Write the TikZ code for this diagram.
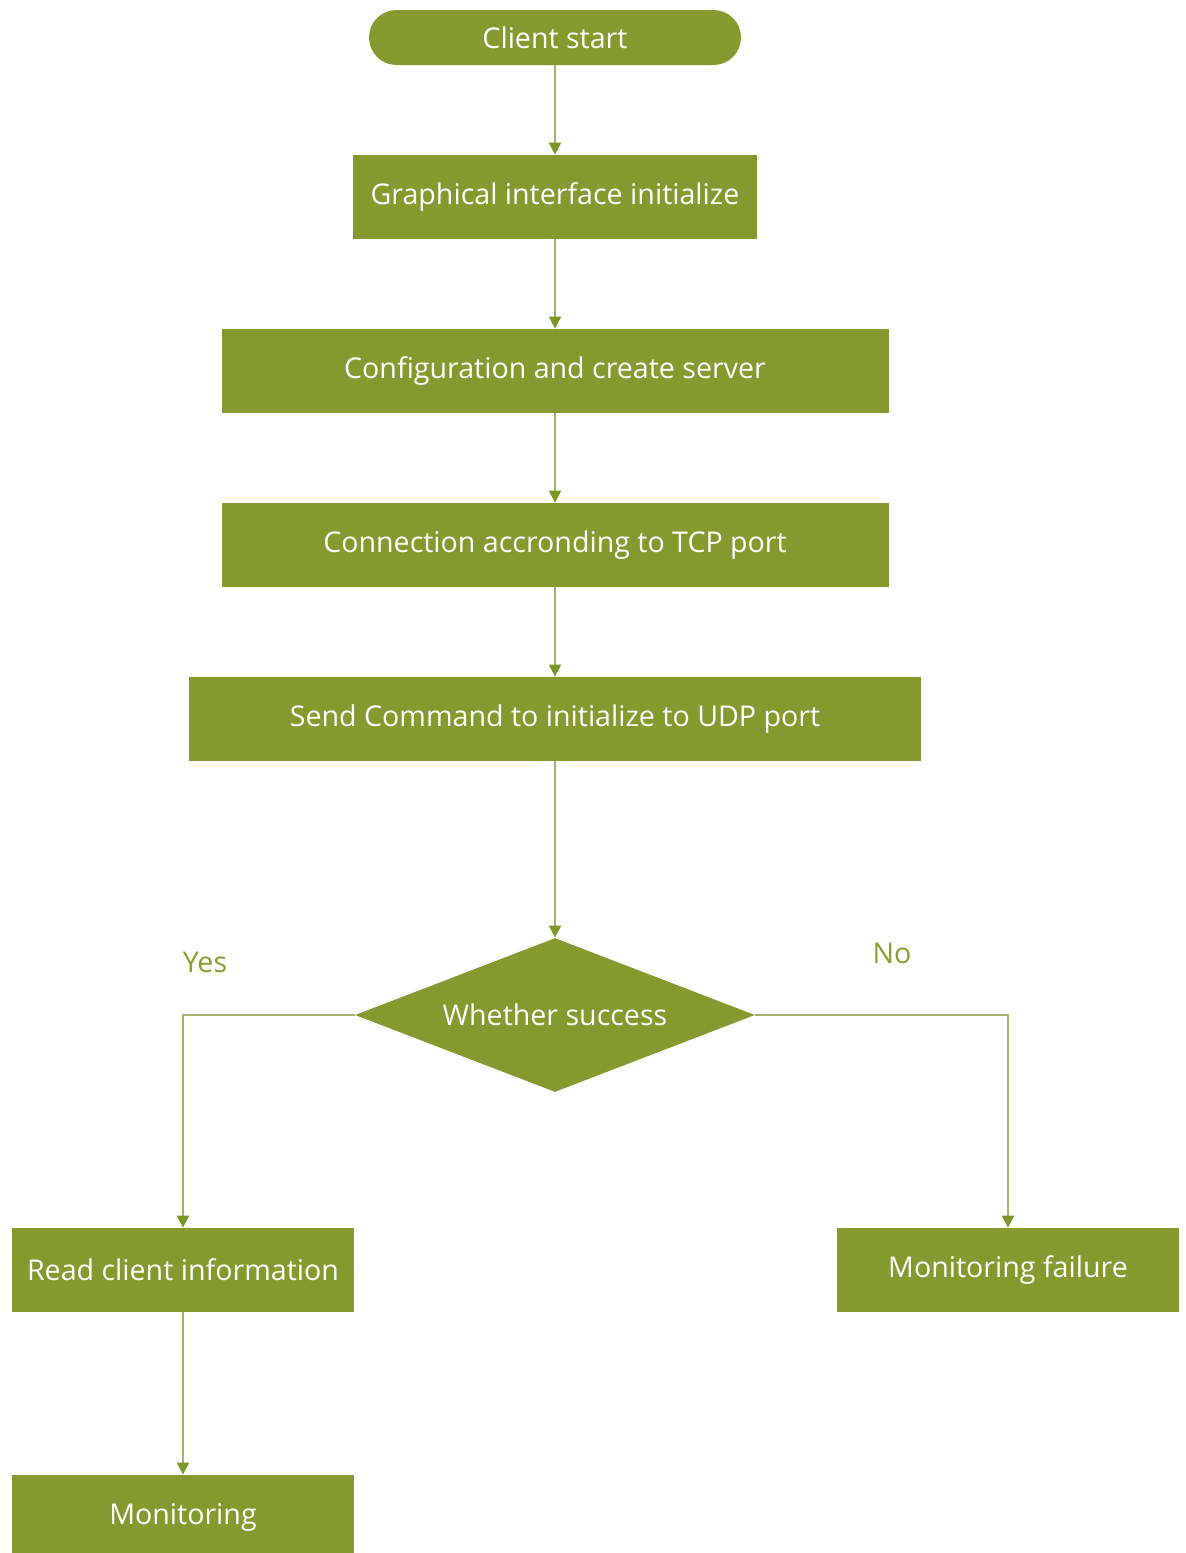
\documentclass[tikz,border=0pt]{standalone}
\usepackage{fontspec}
\setmainfont{Open Sans}
\usetikzlibrary{arrows.meta,shapes.geometric}
\definecolor{boxgreen}{RGB}{133,153,46}
\definecolor{linegreen}{RGB}{163,180,104}
\definecolor{tipgreen}{RGB}{125,148,38}
\definecolor{labelgreen}{RGB}{140,155,45}
\begin{document}
\begin{tikzpicture}[x=0.5pt,y=-0.5pt,
  txt/.style={font=\fontsize{14.3}{17}\selectfont},
  box/.style={txt,rectangle,fill=boxgreen,text=white,inner sep=0pt,minimum height=42pt},
  terminal/.style={box,rounded corners=13.75pt,minimum width=186pt,minimum height=27.5pt},
  decision/.style={txt,diamond,aspect=2.6,fill=boxgreen,text=white,inner sep=0pt,
    minimum width=200pt,minimum height=77pt},
  lbl/.style={txt,text=labelgreen},
  conn/.style={draw=linegreen,line width=1pt,
    -{Triangle[width=6pt,length=6pt,color=tipgreen]}}
]
\useasboundingbox (0,0) rectangle (1185,1553);

% process steps
\node[terminal] (start) at (555,37.5) {Client start};
\node[box,minimum width=202pt] (gui) at (555,197) {Graphical interface initialize};
\node[box,minimum width=333.5pt] (cfg) at (555,371) {Configuration and create server};
\node[box,minimum width=333.5pt] (tcp) at (555,545) {Connection accronding to TCP port};
\node[box,minimum width=366pt] (udp) at (555,719) {Send Command to initialize to UDP port};
\node[decision] (ok) at (555,1015) {Whether success};
\node[box,minimum width=171pt] (read) at (183,1270) {Read client information};
\node[box,minimum width=171pt] (fail) at (1008,1270) {Monitoring failure};
\node[box,minimum width=171pt] (mon) at (183,1517) {Monitoring};

% branch labels
\node[lbl] (yes) at (205,962) {Yes};
\node[lbl] (no) at (892,953) {No};

% connectors
\draw[conn] (start.south) -- (gui.north);
\draw[conn] (gui.south) -- (cfg.north);
\draw[conn] (cfg.south) -- (tcp.north);
\draw[conn] (tcp.south) -- (udp.north);
\draw[conn] (udp.south) -- (ok.north);
\draw[conn] (ok.west) -| (read.north);
\draw[conn] (ok.east) -| (fail.north);
\draw[conn] (read.south) -- (mon.north);
\end{tikzpicture}
\end{document}
